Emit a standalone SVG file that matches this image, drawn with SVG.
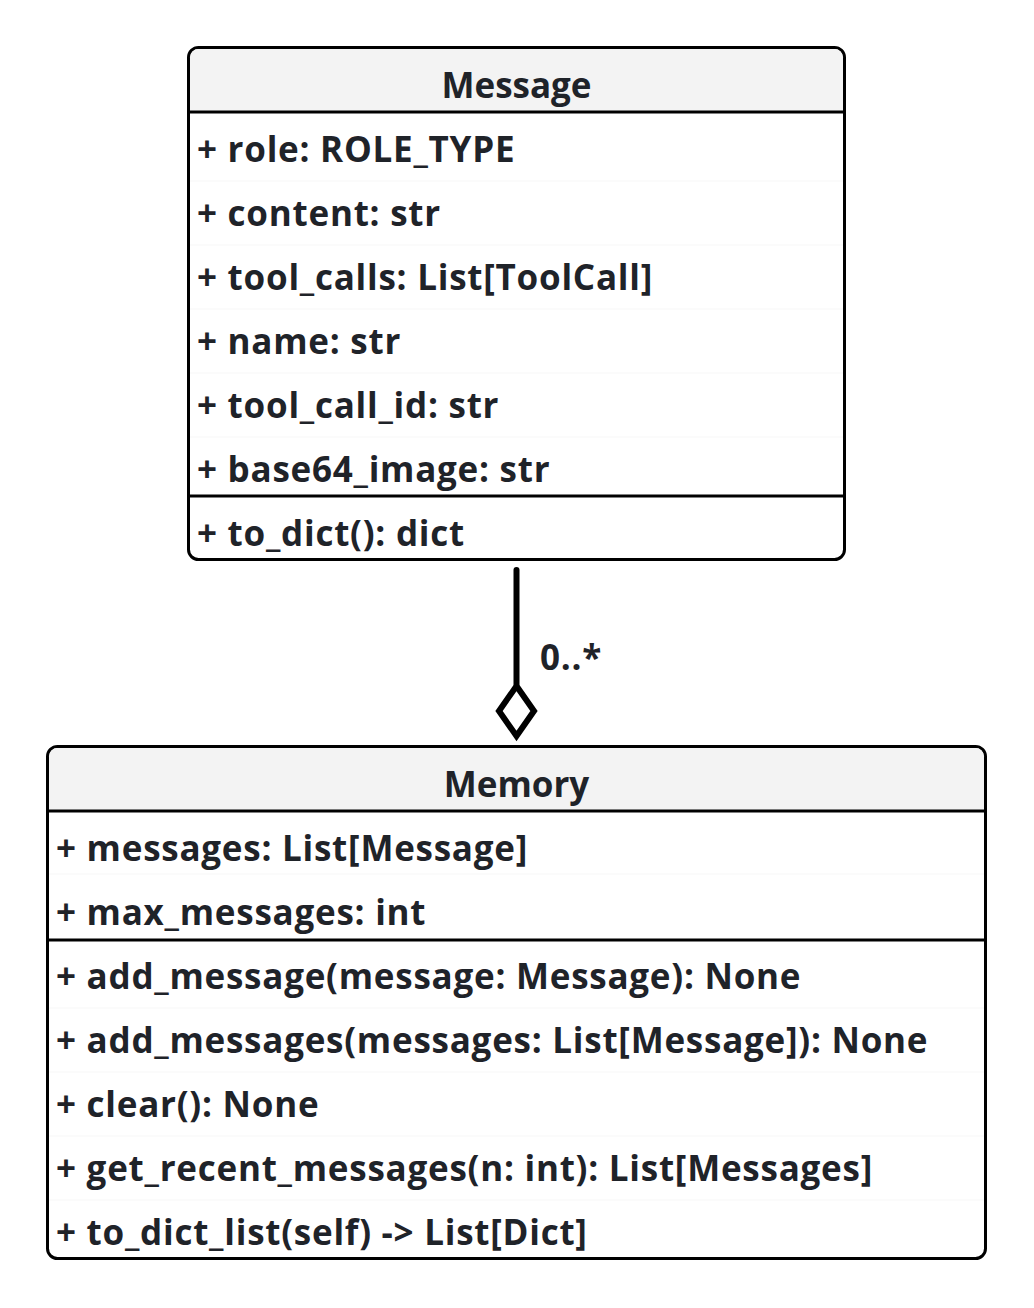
<svg xmlns="http://www.w3.org/2000/svg" width="1034" height="1308" viewBox="0 0 1034 1308">
<style>
.box{fill:#fff;stroke:#000;stroke-width:3}
.hdr{fill:#f3f3f3}
.sep{stroke:#000;stroke-width:3}
.faint{stroke:#f7f7f7;stroke-width:1}
text{font-family:"Open Sans","Liberation Sans",sans-serif;font-weight:bold;font-size:35px;fill:#1f2329;dominant-baseline:central;letter-spacing:0.75px}
.t{text-anchor:middle;letter-spacing:0}
</style>
<rect width="1034" height="1308" fill="#fff"/>
<g id="Message">
<rect class="box" x="188.5" y="47.5" width="656" height="512" rx="10"/>
<path class="hdr" d="M198.5 49h636a8.5 8.5 0 0 1 8.5 8.5V111H190V57.5a8.5 8.5 0 0 1 8.5-8.5z"/>
<line class="sep" x1="188.5" y1="112" x2="844.5" y2="112"/>
<line class="faint" x1="190" y1="181" x2="843" y2="181"/>
<line class="faint" x1="190" y1="245" x2="843" y2="245"/>
<line class="faint" x1="190" y1="309" x2="843" y2="309"/>
<line class="faint" x1="190" y1="373" x2="843" y2="373"/>
<line class="faint" x1="190" y1="437" x2="843" y2="437"/>
<line class="sep" x1="188.5" y1="496" x2="844.5" y2="496"/>
<text class="t" x="516.5" y="84">Message</text>
<text x="197" y="148">+ role: ROLE_TYPE</text>
<text x="197" y="212">+ content: str</text>
<text x="197" y="276">+ tool_calls: List[ToolCall]</text>
<text x="197" y="340">+ name: str</text>
<text x="197" y="404">+ tool_call_id: str</text>
<text x="197" y="468">+ base64_image: str</text>
<text x="197" y="532">+ to_dict(): dict</text>
</g>
<g id="Memory">
<rect class="box" x="47.5" y="746.5" width="938" height="512" rx="10"/>
<path class="hdr" d="M57.5 748h918a8.5 8.5 0 0 1 8.5 8.5V810H49V756.5a8.5 8.5 0 0 1 8.5-8.5z"/>
<line class="sep" x1="47.5" y1="811" x2="985.5" y2="811"/>
<line class="faint" x1="49" y1="874" x2="984" y2="874"/>
<line class="sep" x1="47.5" y1="940" x2="985.5" y2="940"/>
<line class="faint" x1="49" y1="1008" x2="984" y2="1008"/>
<line class="faint" x1="49" y1="1072" x2="984" y2="1072"/>
<line class="faint" x1="49" y1="1136" x2="984" y2="1136"/>
<line class="faint" x1="49" y1="1200" x2="984" y2="1200"/>
<text class="t" x="516.5" y="783">Memory</text>
<text x="56" y="847">+ messages: List[Message]</text>
<text x="56" y="911">+ max_messages: int</text>
<text x="56" y="975">+ add_message(message: Message): None</text>
<text x="56" y="1039">+ add_messages(messages: List[Message]): None</text>
<text x="56" y="1103">+ clear(): None</text>
<text x="56" y="1167">+ get_recent_messages(n: int): List[Messages]</text>
<text x="56" y="1231">+ to_dict_list(self) -&gt; List[Dict]</text>
</g>
<g id="connectors">
<line x1="516.5" y1="570" x2="516.5" y2="684" stroke="#000" stroke-width="6" stroke-linecap="round"/>
<path d="M516.5 686L534 711L516.5 736L499 711Z" fill="#fff" stroke="#000" stroke-width="6" stroke-linejoin="miter"/>
<text x="540" y="656">0..*</text>
</g>
</svg>
